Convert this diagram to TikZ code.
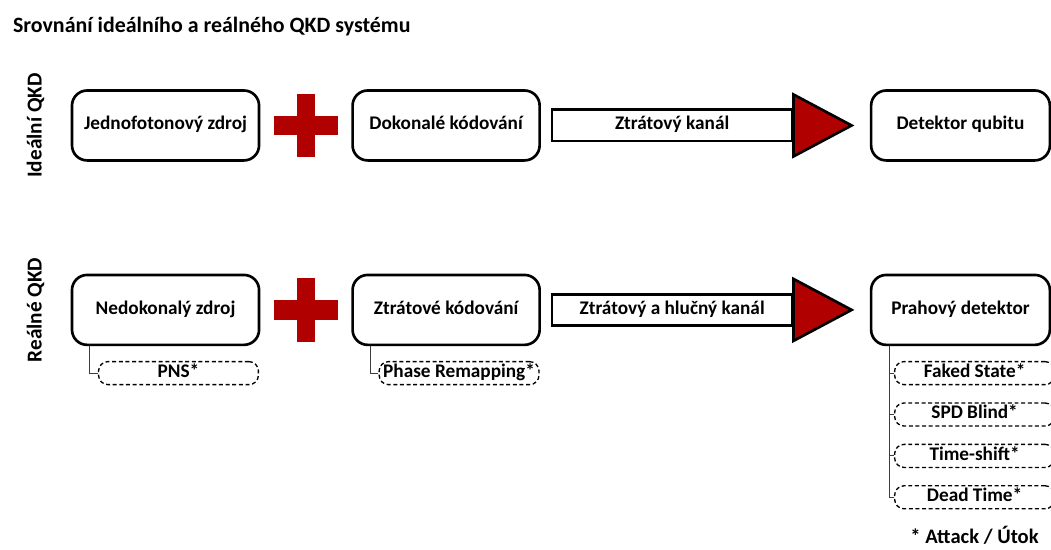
\documentclass[tikz,border=0pt]{standalone}
\usepackage{fontspec}
\setmainfont{Carlito}
\usetikzlibrary{positioning}
\definecolor{crossred}{RGB}{176,0,0}
\definecolor{linkgray}{RGB}{60,60,60}

\begin{document}
\begin{tikzpicture}[
  font=\bfseries\fontsize{14.5}{17}\selectfont,
  node distance=3.5mm,
  box/.style={draw,line width=2pt,rounded corners=4mm,align=center,
              minimum width=49.5mm,minimum height=18.5mm,fill=white,
              text height=0.75em,text depth=0.1em},
  plus/.style={minimum width=16.9mm,minimum height=16.9mm,inner sep=0pt,
               path picture={
                 \fill[crossred] ([xshift=-2.3mm]path picture bounding box.north)
                   rectangle ([xshift=2.3mm]path picture bounding box.south);
                 \fill[crossred] ([yshift=2.6mm]path picture bounding box.west)
                   rectangle ([yshift=-2.6mm]path picture bounding box.east);}},
  chan/.style={draw,line width=2pt,minimum width=63.5mm,minimum height=8.3mm,
               inner sep=0pt,fill=white,text height=0.75em,text depth=0.1em},
  head/.style={fill=crossred,draw=black,line width=2pt},
  attack/.style={draw,dash pattern=on 3pt off 2pt,line width=1pt,rounded corners=2.5mm,
                 minimum width=42.3mm,minimum height=6.1mm,inner sep=0pt,
                 text height=0.75em,text depth=0.1em},
  link/.style={draw=linkgray,line width=0.7pt},
  side/.style={rotate=90,font=\bfseries\fontsize{16}{19}\selectfont}
]
\useasboundingbox (0,0) rectangle (278.1mm,-145.3mm);
\clip (0,0) rectangle (278.1mm,-145.3mm);

\node[anchor=base west,font=\bfseries\fontsize{16.5}{20}\selectfont] (title)
  at (2.2mm,-8.7mm) {Srovnání ideálního a reálného QKD systému};

% idealni QKD
\node[box] (isrc) at (43.8mm,-33.2mm) {Jednofotonový zdroj};
\node[plus,right=of isrc] (iplus) {};
\node[box,right=of iplus] (icod) {Dokonalé kódování};
\node[chan,right=2.6mm of icod] (ichan) {Ztrátový kanál};
\filldraw[head] ([yshift=8.2mm]ichan.east) -- ([xshift=15.4mm]ichan.east)
  -- ([yshift=-8.2mm]ichan.east) -- cycle;
\node[box,right=20.2mm of ichan,minimum width=47.3mm] (idet) {Detektor qubitu};
\node[side] (lideal) at ([xshift=-9.3mm]isrc.west) {Ideální QKD};

% realne QKD
\node[box,below=29.6mm of isrc] (rsrc) {Nedokonalý zdroj};
\node[plus,right=of rsrc] (rplus) {};
\node[box,right=of rplus] (rcod) {Ztrátové kódování};
\node[chan,right=2.6mm of rcod] (rchan) {Ztrátový a hlučný kanál};
\filldraw[head] ([yshift=8.2mm]rchan.east) -- ([xshift=15.4mm]rchan.east)
  -- ([yshift=-8.2mm]rchan.east) -- cycle;
\node[box,right=20.2mm of rchan,minimum width=47.3mm] (rdet) {Prahový detektor};
\node[side] (lreal) at ([xshift=-9.3mm]rsrc.west) {Reálné QKD};

% utoky
\node[attack,below right=3.9mm and 7.2mm of rsrc.south west,anchor=north west] (pns) {PNS*};
\node[attack,below right=3.9mm and 7.2mm of rcod.south west,anchor=north west] (remap) {Phase Remapping*};
\node[attack,below right=3.9mm and 6.4mm of rdet.south west,anchor=north west] (faked) {Faked State*};
\node[attack,below=4.5mm of faked] (spd) {SPD Blind*};
\node[attack,below=4.5mm of spd] (tshift) {Time-shift*};
\node[attack,below=4.5mm of tshift] (dead) {Dead Time*};

\draw[link] ([xshift=5.1mm]rsrc.south west) |- (pns.west);
\draw[link] ([xshift=5.1mm]rcod.south west) |- (remap.west);
\foreach \a in {faked,spd,tshift,dead}
  \draw[link] ([xshift=5.1mm]rdet.south west) |- (\a.west);

\node[anchor=base,font=\bfseries\fontsize{15.5}{18}\selectfont] (note)
  at ([yshift=-9mm]dead.south) {* Attack / Útok};
\end{tikzpicture}
\end{document}
